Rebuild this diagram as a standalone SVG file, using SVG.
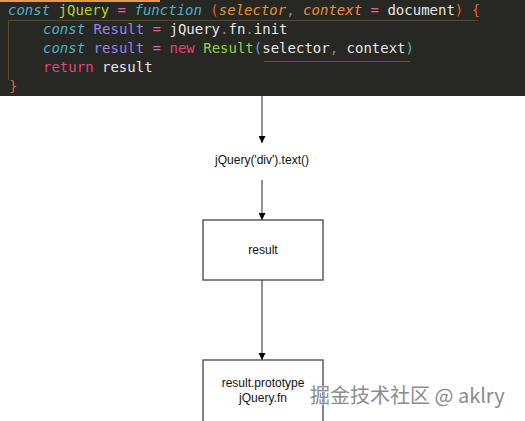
<svg xmlns="http://www.w3.org/2000/svg" width="525" height="421" viewBox="0 0 525 421">
<style>
.code{font-family:"DejaVu Sans Mono","Liberation Mono",monospace;font-size:14px;fill:#e6e6e6}
.it{font-style:italic}
.kw{fill:#4cb2c6}
.fn{fill:#b3d334}
.op{fill:#d66a9c}
.par{fill:#e0623a}
.arg{fill:#e8913a}
.pu{fill:#8a8a8a}
.cls{fill:#9a84e6}
.nw{fill:#e0457c}
.grn{fill:#98cf4a}
.lbl{font-family:"Liberation Sans",Arial,sans-serif;font-size:12px;fill:#111;text-anchor:middle}
.box{fill:#fff;stroke:#444;stroke-width:1.3}
.edge{stroke:#555;stroke-width:1.3;fill:none}
.wm{font-family:"Noto Sans CJK SC","Liberation Sans",sans-serif;font-size:20px;fill:#8c8c8c;stroke:#fff;stroke-width:0.6;paint-order:stroke}
</style>
<defs>
<marker id="ah" viewBox="0 0 10 10" refX="10" refY="5" markerWidth="7" markerHeight="7" markerUnits="userSpaceOnUse" orient="auto">
<path d="M0,0 L10,5 L0,10 z" fill="#000"/>
</marker>
</defs>
<rect width="525" height="421" fill="#fff"/>
<g id="code">
<rect x="0" y="0" width="525" height="96" fill="#272723"/>
<rect x="0" y="0" width="160" height="2" fill="#e89a3c"/>
<path d="M8.5 80 V20.5 H478" stroke="#5a4a2c" stroke-width="1" fill="none"/>
<path d="M264 61.5 H410" stroke="#6b5428" stroke-width="1" fill="none"/>
<text class="code" xml:space="preserve" x="8" y="15"><tspan class="kw it">const</tspan> <tspan class="fn">jQuery</tspan> <tspan class="op">=</tspan> <tspan class="kw it">function</tspan> <tspan class="par">(</tspan><tspan class="arg it">selector</tspan><tspan class="pu">,</tspan> <tspan class="arg it">context</tspan> <tspan class="op">=</tspan> document<tspan class="par">)</tspan> <tspan class="par">{</tspan></text>
<text class="code" xml:space="preserve" x="43" y="34"><tspan class="kw it">const</tspan> <tspan class="cls">Result</tspan> <tspan class="op">=</tspan> jQuery<tspan class="pu">.</tspan>fn<tspan class="pu">.</tspan>init</text>
<text class="code" xml:space="preserve" x="43" y="53"><tspan class="kw it">const</tspan> <tspan class="cls">result</tspan> <tspan class="op">=</tspan> <tspan class="nw">new</tspan> <tspan class="grn">Result</tspan><tspan class="kw">(</tspan>selector<tspan class="pu">,</tspan> context<tspan class="kw">)</tspan></text>
<text class="code" xml:space="preserve" x="43" y="72"><tspan class="nw">return</tspan> result</text>
<text class="code" x="9" y="91"><tspan class="par">}</tspan></text>
</g>
<g id="connectors">
<line class="edge" x1="262" y1="96" x2="262" y2="143" marker-end="url(#ah)"/>
<line class="edge" x1="262" y1="180" x2="262" y2="220" marker-end="url(#ah)"/>
<line class="edge" x1="262" y1="280" x2="262" y2="360" marker-end="url(#ah)"/>
</g>
<g id="call">
<text class="lbl" x="262" y="164">jQuery('div').text()</text>
</g>
<g id="result">
<rect class="box" x="203" y="220" width="120" height="60"/>
<text class="lbl" x="263" y="254">result</text>
</g>
<g id="prototype">
<rect class="box" x="203" y="360" width="120" height="62"/>
<text class="lbl" x="263" y="387">result.prototype</text>
<text class="lbl" x="263" y="402">jQuery.fn</text>
</g>
<text class="wm" x="310" y="403">掘金技术社区 @ aklry</text>
</svg>
